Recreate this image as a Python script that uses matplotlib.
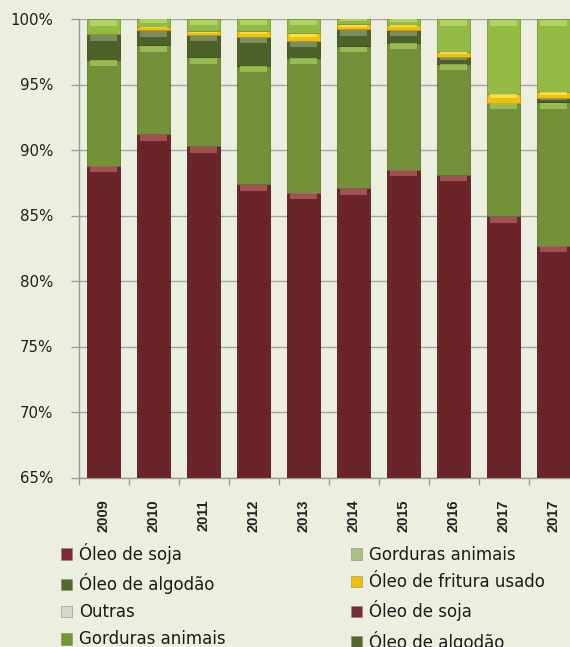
import matplotlib
matplotlib.use("Agg")
import matplotlib.pyplot as plt
from matplotlib.patches import Patch
from matplotlib.ticker import FixedLocator, PercentFormatter
import numpy as np

# ---- data (percent shares) ----
years = ["2009", "2010", "2011", "2012", "2013", "2014", "2015", "2016", "2017", "2017"]
oleo_soja = [88.8, 91.2, 90.3, 87.4, 86.75, 87.1, 88.5, 88.1, 84.95, 82.7]
gorduras_animais = [8.1, 6.8, 6.8, 9.05, 10.3, 10.85, 9.7, 8.5, 8.65, 10.95]
oleo_algodao = [1.95, 1.15, 1.7, 2.2, 1.3, 1.25, 0.95, 0.53, 0.0, 0.3]
oleo_fritura = [0.0, 0.25, 0.25, 0.4, 0.55, 0.4, 0.4, 0.37, 0.7, 0.5]
outras = [1.15, 0.6, 0.95, 0.95, 1.1, 0.4, 0.45, 2.5, 5.7, 5.55]

legend_left = ["Óleo de soja", "Óleo de algodão", "Outras", "Gorduras animais"]
legend_right = ["Gorduras animais", "Óleo de fritura usado", "Óleo de soja", "Óleo de algodão"]
legend_left_colors = ["#7A2C30", "#55682D", "#D5D8CD", "#6E9A2B"]
legend_right_colors = ["#A9BD86", "#F3BF00", "#7A2C30", "#55682D"]

series = [oleo_soja, gorduras_animais, oleo_algodao, oleo_fritura, outras]
body_colors = ["#6B2427", "#74913A", "#4E6128", "#F2C200", "#92BA45"]
high_colors = ["#B56064", "#A3C85A", "#8A9C72", "#FFE566", "#BBDD6E"]
edge_colors = ["#55191C", "#5E7A2E", "#3C4B1E", "#D89200", "#779A35"]

BG = "#ECEFE0"
W, H = 570, 647
fig = plt.figure(figsize=(W / 100, H / 100), dpi=100, facecolor=BG)
ax = fig.add_axes([78.5 / W, 1 - 477.5 / H, 500 / W, 458.5 / H])
ax.set_facecolor(BG)

x = np.arange(len(years))
bw = 0.66
bottom = np.zeros(len(years))
for vals, c, hc, ec in zip(series, body_colors, high_colors, edge_colors):
    v = np.array(vals, dtype=float)
    ax.bar(x, v, bw, bottom=bottom, color=c, edgecolor=ec, linewidth=0.6, zorder=3)
    # glossy highlight at top of each segment
    hh = np.minimum(0.45, v * 0.4)
    ax.bar(x, hh, bw * 0.82, bottom=bottom + v - hh - np.minimum(0.05, v * 0.05),
           color=hc, linewidth=0, zorder=4, alpha=0.75)
    bottom = bottom + v

ax.set_ylim(65, 100)
ax.set_xlim(-0.5, len(years) - 0.5)
ax.yaxis.set_major_locator(FixedLocator(np.arange(65, 101, 5)))
ax.yaxis.set_major_formatter(PercentFormatter(decimals=0))
ax.grid(axis="y", color="#A3A3A3", linewidth=1.0, zorder=0)
ax.set_axisbelow(True)

ax.set_xticks(x)
ax.set_xticklabels(years, rotation=90, fontfamily="Liberation Sans",
                   fontweight="bold", fontsize=10.5, color="#222222")
ax.set_xticks(np.arange(-0.5, len(years), 1), minor=True)
ax.tick_params(axis="x", which="major", length=0, pad=16)
ax.tick_params(axis="x", which="minor", length=5, color="#999999", width=1)
ax.tick_params(axis="y", length=6, color="#999999", width=1, pad=12,
               labelsize=10.8, labelcolor="#1F1F1F")

for s in ["top", "right"]:
    ax.spines[s].set_visible(False)
for s in ["left", "bottom"]:
    ax.spines[s].set_color("#999999")
    ax.spines[s].set_linewidth(1.0)

def make_legend(names, colors, xpos, ytop):
    handles = [Patch(facecolor=c, edgecolor="#888888", linewidth=0.4) for c in colors]
    leg = fig.legend(handles, names, loc="upper left", bbox_to_anchor=(xpos, 1 - ytop / H),
                     frameon=False, fontsize=12, ncol=1, borderpad=0, borderaxespad=0,
                     handlelength=0.7, handleheight=0.7, handletextpad=0.4,
                     labelspacing=0.55)
    for t in leg.get_texts():
        t.set_color("#1A1A1A")
    return leg

make_legend(legend_left, legend_left_colors, 60.7 / W, 543)
make_legend(legend_right, legend_right_colors, 350.7 / W, 546)

fig.savefig("out.png", dpi=100, facecolor=BG)
